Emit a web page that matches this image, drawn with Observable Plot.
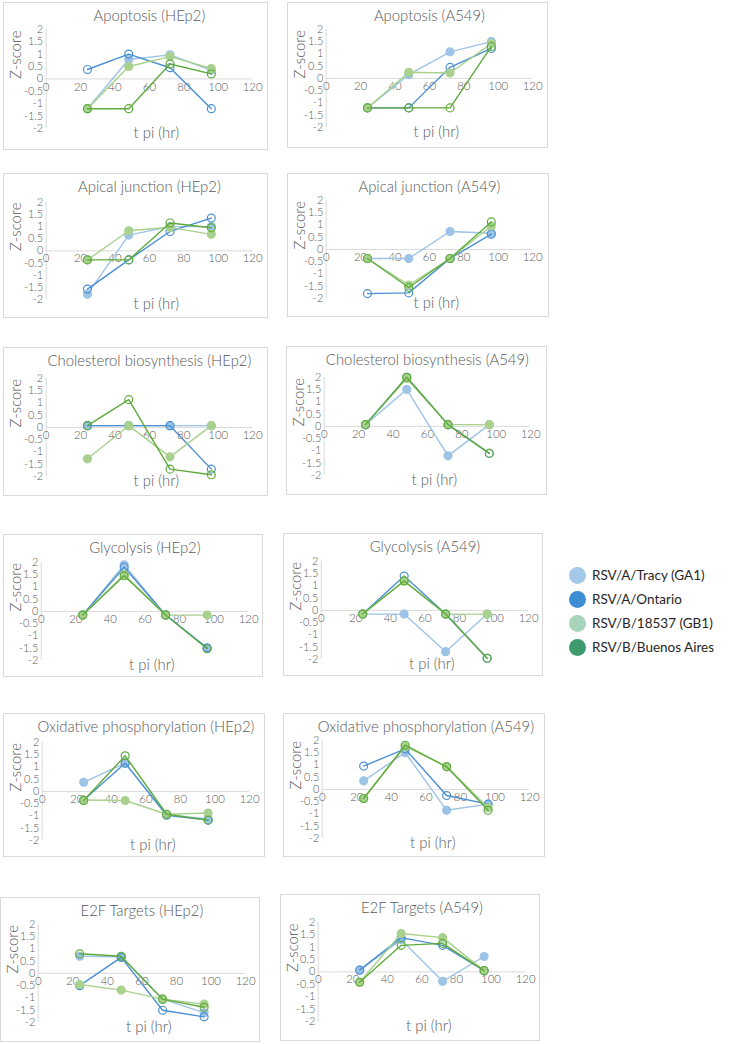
<!DOCTYPE html>
<html>
<head>
<meta charset="utf-8">
<script src="https://cdn.jsdelivr.net/npm/d3@7"></script>
<script src="https://cdn.jsdelivr.net/npm/@observablehq/plot@0.6"></script>
<style>
  html, body { margin: 0; padding: 0; background: #fff; }
  #root { position: relative; width: 732px; height: 1044px; overflow: hidden; font-family: Lato, sans-serif; }
  .panel { position: absolute; box-sizing: border-box; border: 1px solid #d9d9d9; background: #fff; }
  .panel svg { position: absolute; left: -1px; top: -1px; overflow: visible; }
  #legend { position: absolute; left: 569px; top: 563px; font-family: Lato, sans-serif; font-size: 13.5px; color: #262626; }
  #legend .item { display: flex; align-items: center; height: 24px; }
  #legend .sw { width: 17px; height: 17px; border-radius: 50%; margin-right: 6px; }
</style>
</head>
<body>
<div id="root"><div id="legend"></div></div>
<script>
// ---- data ----
const times = [24, 48, 72, 96];
const seriesNames = ["RSV/A/Tracy (GA1)", "RSV/A/Ontario", "RSV/B/18537 (GB1)", "RSV/B/Buenos Aires"];
const seriesColors = ["#9dc3e6", "#4a8fd4", "#a9d18e", "#5eab3c"];
const legendColors = ["#a3c8e8", "#3d8ed2", "#a8d5ba", "#3e9a6c"];
const seriesFilled = [true, false, true, false];
const xTicks = [0, 20, 40, 60, 80, 100, 120];
const yTicks = [-2, -1.5, -1, -0.5, 0, 0.5, 1, 1.5, 2];

// values: rows = GA1, Ontario, GB1, Buenos Aires; columns = 24, 48, 72, 96 h
const apoptosisHEp2 = [[-1.2, 0.78, 0.97, 0.35], [0.38, 1.0, 0.45, -1.2], [-1.2, 0.5, 0.9, 0.42], [-1.2, -1.2, 0.6, 0.2]];
const apoptosisA549 = [[-1.2, 0.15, 1.08, 1.5], [-1.2, -1.2, 0.45, 1.22], [-1.2, 0.25, 0.22, 1.42], [-1.2, -1.2, -1.2, 1.3]];
const apicalHEp2 = [[-1.78, 0.65, 1.0, 1.0], [-1.57, -0.37, 0.8, 1.35], [-0.37, 0.83, 0.97, 0.68], [-0.37, -0.37, 1.15, 0.95]];
const apicalA549 = [[-0.37, -0.37, 0.73, 0.66], [-1.8, -1.77, -0.37, 0.62], [-0.37, -1.45, -0.37, 0.95], [-0.37, -1.55, -0.37, 1.12]];
const cholHEp2 = [[0.07, 0.07, 0.07, 0.07], [0.07, 0.07, 0.07, -1.7], [-1.28, 0.07, -1.2, 0.07], [0.07, 1.13, -1.7, -1.93]];
const cholA549 = [[0.07, 1.5, -1.2, 0.07], [0.07, 2.0, 0.07, -1.1], [0.07, 1.95, 0.07, 0.07], [0.07, 2.0, 0.07, -1.1]];
const glycHEp2 = [[-0.15, 1.9, -0.15, -1.5], [-0.15, 1.8, -0.15, -1.48], [-0.15, 1.5, -0.15, -0.15], [-0.15, 1.45, -0.15, -1.52]];
const glycA549 = [[-0.15, -0.15, -1.68, -0.15], [-0.15, 1.4, -0.15, -1.95], [-0.15, 1.2, -0.15, -0.15], [-0.15, 1.2, -0.15, -1.95]];
const oxphosHEp2 = [[0.37, 1.15, -0.95, -1.12], [-0.35, 1.15, -0.97, -1.17], [-0.35, -0.37, -0.93, -0.88], [-0.37, 1.45, -0.93, -1.17]];
const oxphosA549 = [[0.35, 1.5, -0.85, -0.6], [0.95, 1.65, -0.25, -0.6], [-0.37, 1.75, 0.93, -0.75], [-0.37, 1.8, 0.92, -0.85]];
const e2fHEp2 = [[0.7, 0.68, -1.05, -1.6], [-0.5, 0.65, -1.5, -1.77], [-0.45, -0.68, -1.05, -1.25], [0.8, 0.7, -1.05, -1.38]];
const e2fA549 = [[0.07, 1.3, -0.38, 0.62], [0.07, 1.38, 1.07, 0.05], [-0.42, 1.55, 1.38, 0.05], [-0.42, 1.07, 1.15, 0.05]];

const titles = ["Apoptosis (HEp2)", "Apoptosis (A549)", "Apical junction (HEp2)", "Apical junction (A549)",
  "Cholesterol biosynthesis (HEp2)", "Cholesterol biosynthesis (A549)", "Glycolysis (HEp2)", "Glycolysis (A549)",
  "Oxidative phosphorylation (HEp2)", "Oxidative phosphorylation (A549)", "E2F Targets (HEp2)", "E2F Targets (A549)"];
const panelValues = [apoptosisHEp2, apoptosisA549, apicalHEp2, apicalA549, cholHEp2, cholA549,
  glycHEp2, glycA549, oxphosHEp2, oxphosA549, e2fHEp2, e2fA549];

// ---- layout (box left, top, right, bottom; plot x0, x120, y(2), y(-2)) ----
const layout = [
  [3, 2, 268, 150, 46, 254, 29, 129],
  [287, 2, 548, 148, 326, 534, 29, 128],
  [3, 173, 268, 318, 46, 254, 202, 300],
  [287, 173, 549, 317, 326, 534, 200, 299],
  [3, 347, 268, 496, 46, 254, 378, 477],
  [286, 346, 547, 495, 324, 532, 377, 476],
  [3, 534, 263, 677, 41, 250, 562, 661],
  [283, 533, 543, 676, 321, 530, 561, 660],
  [3, 713, 265, 857, 42, 251, 742, 841],
  [283, 713, 545, 857, 322, 531, 740, 839],
  [0, 897, 260, 1042, 38, 247, 924, 1023],
  [280, 894, 540, 1041, 318, 527, 922, 1022]
];

const root = document.getElementById("root");
const txt = "#595959";

panelValues.forEach((vals, p) => {
  const [L, T, R, B, x0, x1, y2, ym2] = layout[p];
  const W = R - L, H = B - T;
  const rows = seriesNames.flatMap((s, i) => times.map((t, j) => ({series: s, idx: i, t, z: vals[i][j]})));
  const marks = [
    Plot.ruleY([0], {x1: 0, x2: 120, stroke: "#d9d9d9", strokeWidth: 1}),
    Plot.ruleX([0], {y1: -2, y2: 2, stroke: "#d9d9d9", strokeWidth: 1}),
    Plot.axisY({ticks: yTicks, tickSize: 0, tickPadding: 3, tickFormat: d => String(d), fontSize: 11, fontWeight: 300, fill: txt, label: null}),
    Plot.text(xTicks, {x: d => d, y: 0, dy: 8, text: d => String(d), fontSize: 11.5, fontWeight: 300, fill: txt}),
    Plot.text([titles[p]], {frameAnchor: "top", dy: 14 - (y2 - T), lineAnchor: "middle", fontSize: 15, fontWeight: 300, fill: txt}),
    Plot.text(["Z-score"], {frameAnchor: "left", dx: -(x0 - L) + 13, rotate: -90, fontSize: 15, fontWeight: 300, fill: txt}),
    Plot.text(["t pi (hr)"], {frameAnchor: "bottom", dx: 7, dy: 5, lineAnchor: "middle", fontSize: 15, fontWeight: 300, fill: txt})
  ];
  seriesNames.forEach((s, i) => {
    const d = rows.filter(r => r.idx === i);
    marks.push(Plot.line(d, {x: "t", y: "z", stroke: seriesColors[i], strokeWidth: 1.4}));
    marks.push(Plot.dot(d, {x: "t", y: "z", r: 4, stroke: seriesColors[i], strokeWidth: 1.2,
      fill: seriesFilled[i] ? seriesColors[i] : "none"}));
  });
  const chart = Plot.plot({
    width: W, height: H,
    marginLeft: x0 - L, marginRight: R - x1, marginTop: y2 - T, marginBottom: B - ym2,
    x: {domain: [0, 120], axis: null},
    y: {domain: [-2, 2], axis: null},
    style: {fontFamily: "Lato, sans-serif", background: "transparent", color: txt, overflow: "visible"},
    marks
  });
  const div = document.createElement("div");
  div.className = "panel";
  div.style.left = L + "px"; div.style.top = T + "px";
  div.style.width = W + "px"; div.style.height = H + "px";
  div.appendChild(chart);
  root.appendChild(div);
});

// legend
const legend = document.getElementById("legend");
seriesNames.forEach((s, i) => {
  const item = document.createElement("div");
  item.className = "item";
  const sw = document.createElement("span");
  sw.className = "sw"; sw.style.background = legendColors[i];
  const lab = document.createElement("span");
  lab.textContent = s;
  item.appendChild(sw); item.appendChild(lab);
  legend.appendChild(item);
});
</script>
</body>
</html>
